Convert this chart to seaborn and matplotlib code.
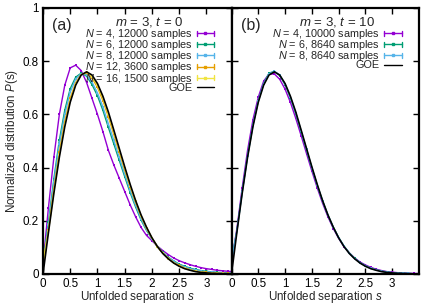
import numpy as np
import pandas as pd
import matplotlib
matplotlib.use("Agg")
import matplotlib.pyplot as plt
import seaborn as sns
from matplotlib.lines import Line2D
from matplotlib.legend_handler import HandlerBase
from matplotlib.ticker import FuncFormatter

# ---------------- data ----------------
s_vals = [0.0, 0.1, 0.2, 0.3, 0.4, 0.5, 0.6, 0.7, 0.8, 0.9,
          1.0, 1.1, 1.2, 1.3, 1.4, 1.5, 1.6, 1.7, 1.8, 1.9,
          2.0, 2.1, 2.2, 2.3, 2.4, 2.5, 2.6, 2.7, 2.8, 2.9,
          3.0, 3.1, 3.2, 3.3, 3.4, 3.5]

goe = [0.0, 0.156, 0.304, 0.439, 0.554, 0.646, 0.710, 0.748, 0.760, 0.748,
       0.716, 0.668, 0.609, 0.541, 0.472, 0.403, 0.337, 0.276, 0.222, 0.176,
       0.136, 0.103, 0.077, 0.057, 0.041, 0.029, 0.020, 0.014, 0.009, 0.006,
       0.004, 0.0025, 0.0016, 0.0010, 0.0006, 0.0003]

# panel (a): m = 3, t = 0
a_n4 = [0.04, 0.25, 0.44, 0.60, 0.71, 0.775, 0.785, 0.765, 0.72, 0.66,
        0.60, 0.535, 0.465, 0.41, 0.36, 0.31, 0.26, 0.215, 0.175, 0.145,
        0.125, 0.105, 0.088, 0.073, 0.06, 0.05, 0.042, 0.035, 0.029, 0.024,
        0.02, 0.017, 0.014, 0.012, 0.01, 0.009]
a_n6 = [0.04, 0.194, 0.358, 0.503, 0.616, 0.697, 0.740, 0.755, 0.744, 0.712,
        0.670, 0.615, 0.551, 0.489, 0.427, 0.366, 0.306, 0.252, 0.203, 0.164,
        0.132, 0.104, 0.081, 0.063, 0.049, 0.037, 0.029, 0.022, 0.017, 0.013,
        0.010, 0.008, 0.006, 0.005, 0.004, 0.003]
a_n8 = [0.04, 0.184, 0.345, 0.487, 0.601, 0.684, 0.733, 0.753, 0.748, 0.721,
        0.681, 0.628, 0.565, 0.502, 0.438, 0.375, 0.314, 0.258, 0.208, 0.167,
        0.133, 0.104, 0.080, 0.062, 0.047, 0.035, 0.027, 0.020, 0.015, 0.011,
        0.009, 0.007, 0.005, 0.004, 0.003, 0.003]
a_n12 = [0.04, 0.167, 0.320, 0.458, 0.573, 0.661, 0.719, 0.750, 0.755, 0.737,
         0.702, 0.652, 0.591, 0.525, 0.458, 0.391, 0.328, 0.269, 0.217, 0.172,
         0.135, 0.103, 0.078, 0.059, 0.043, 0.032, 0.023, 0.016, 0.011, 0.008,
         0.006, 0.004, 0.003, 0.002, 0.002, 0.001]
a_n16 = [0.04, 0.162, 0.312, 0.449, 0.563, 0.653, 0.715, 0.749, 0.758, 0.742,
         0.709, 0.660, 0.600, 0.533, 0.465, 0.397, 0.332, 0.273, 0.219, 0.174,
         0.135, 0.103, 0.078, 0.058, 0.042, 0.030, 0.021, 0.015, 0.010, 0.007,
         0.005, 0.003, 0.002, 0.002, 0.001, 0.001]

# panel (b): m = 3, t = 10
b_n4 = [0.045, 0.17, 0.325, 0.465, 0.58, 0.665, 0.725, 0.752, 0.752, 0.732,
        0.695, 0.645, 0.585, 0.52, 0.453, 0.387, 0.324, 0.266, 0.215, 0.171,
        0.134, 0.103, 0.079, 0.060, 0.045, 0.034, 0.025, 0.018, 0.013, 0.009,
        0.007, 0.005, 0.004, 0.003, 0.002, 0.002]
b_n6 = [0.05, 0.162, 0.31, 0.445, 0.56, 0.652, 0.716, 0.755, 0.762, 0.746,
        0.712, 0.662, 0.602, 0.535, 0.466, 0.398, 0.333, 0.274, 0.221, 0.176,
        0.137, 0.105, 0.079, 0.059, 0.043, 0.031, 0.022, 0.016, 0.011, 0.008,
        0.005, 0.004, 0.003, 0.002, 0.001, 0.001]
b_n8 = [0.048, 0.16, 0.308, 0.443, 0.558, 0.65, 0.714, 0.752, 0.762, 0.748,
        0.714, 0.665, 0.605, 0.538, 0.469, 0.4, 0.335, 0.275, 0.222, 0.176,
        0.137, 0.104, 0.078, 0.058, 0.042, 0.030, 0.021, 0.015, 0.010, 0.007,
        0.005, 0.003, 0.002, 0.002, 0.001, 0.001]

a_labels = [r"$N$ = 4, 12000 samples", r"$N$ = 6, 12000 samples",
            r"$N$ = 8, 12000 samples", r"$N$ = 12, 3600 samples",
            r"$N$ = 16, 1500 samples"]
b_labels = [r"$N$ = 4, 10000 samples", r"$N$ = 6, 8640 samples",
            r"$N$ = 8, 8640 samples"]
x_ticks = [0, 0.5, 1, 1.5, 2, 2.5, 3]
y_ticks = [0, 0.2, 0.4, 0.6, 0.8, 1]

colors = ["#9400d3", "#009e73", "#56b4e9", "#e69f00", "#f0e442"]

# ---------------- style ----------------
sns.set_theme(style="white")
plt.rcParams["font.family"] = ["Liberation Sans", "DejaVu Sans"]
plt.rcParams["mathtext.fontset"] = "custom"
plt.rcParams["mathtext.rm"] = "Liberation Sans"
plt.rcParams["mathtext.it"] = "Liberation Sans:italic"
plt.rcParams["mathtext.bf"] = "Liberation Sans:bold"


class CapLineHandler(HandlerBase):
    def create_artists(self, legend, orig_handle, xdescent, ydescent,
                       width, height, fontsize, trans):
        c = orig_handle.get_color()
        y = height / 2 - ydescent
        x0 = -xdescent
        x1 = x0 + width
        h = height * 0.32
        arts = [Line2D([x0, x1], [y, y], color=c, lw=1.0),
                Line2D([x0, x0], [y - h, y + h], color=c, lw=1.0),
                Line2D([x1, x1], [y - h, y + h], color=c, lw=1.0),
                Line2D([(x0 + x1) / 2], [y], color=c, marker="s", ms=2.0,
                       lw=0)]
        for a in arts:
            a.set_transform(trans)
        return arts


fig = plt.figure(figsize=(4.27, 3.05), dpi=100)
ax_a = fig.add_axes([43 / 427, 1 - 274 / 305, 188.5 / 427, 266 / 305])
ax_b = fig.add_axes([231.5 / 427, 1 - 274 / 305, 187.5 / 427, 266 / 305])

FS = 8.4


def draw_panel(ax, series, labels, title, tag, xmax):
    handles = []
    for vals, lab, col in zip(series, labels, colors):
        sns.lineplot(x=s_vals, y=vals, ax=ax, color=col, lw=1.0,
                     marker="s", markersize=1.8, markeredgewidth=0,
                     zorder=2)
        handles.append(Line2D([], [], color=col))
    sns.lineplot(x=s_vals, y=goe, ax=ax, color="black", lw=1.2, zorder=3)
    goe_h = Line2D([], [], color="black", lw=1.0)
    ax.set_xlim(0, xmax)
    ax.set_ylim(0, 1)
    ax.xaxis.set_major_locator(plt.FixedLocator(x_ticks))
    ax.yaxis.set_major_locator(plt.FixedLocator(y_ticks))
    ax.xaxis.set_major_formatter(FuncFormatter(lambda v, p: f"{v:g}"))
    ax.yaxis.set_major_formatter(FuncFormatter(lambda v, p: f"{v:g}"))
    ax.tick_params(direction="in", length=4.5, width=1.0, top=True,
                   right=True, bottom=True, left=True, labelsize=FS,
                   pad=3, colors="black")
    for sp in ax.spines.values():
        sp.set_linewidth(1.6)
        sp.set_color("black")
    ax.set_xlabel(r"Unfolded separation $s$", fontsize=FS, labelpad=-0.5)
    hm = {h: CapLineHandler() for h in handles}
    leg = ax.legend(handles + [goe_h], labels + ["GOE"], loc="upper right",
                    markerfirst=False, frameon=False, fontsize=7.8,
                    title=title, title_fontsize=9.5, handlelength=1.6,
                    handletextpad=0.4, labelspacing=-0.26,
                    borderaxespad=0.0, bbox_to_anchor=(0.93, 0.99),
                    handler_map=hm)
    leg._legend_box.sep = -1.5
    ax.text(0.05, 0.935, tag, transform=ax.transAxes, fontsize=11.5,
            va="center", ha="left")


draw_panel(ax_a, [a_n4, a_n6, a_n8, a_n12, a_n16], a_labels,
           r"$m$ = 3, $t$ = 0", "(a)", 3.46)
draw_panel(ax_b, [b_n4, b_n6, b_n8], b_labels,
           r"$m$ = 3, $t$ = 10", "(b)", 3.5)

ax_a.set_ylabel(r"Normalized distribution $P$(s)", fontsize=FS, labelpad=2)
ax_b.set_ylabel("")
ax_b.tick_params(labelleft=False)

fig.savefig("out.png", dpi=100)
